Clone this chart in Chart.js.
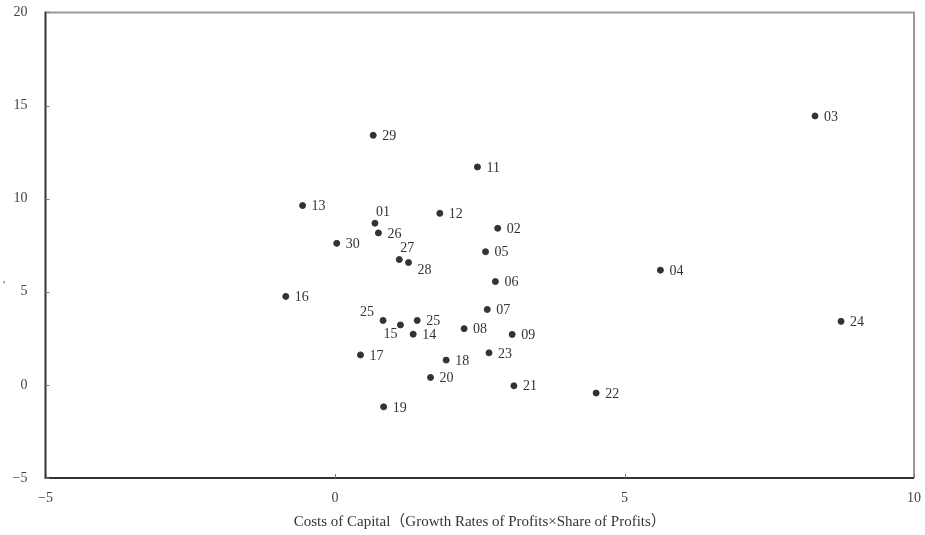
<!DOCTYPE html>
<html>
<head>
<meta charset="utf-8">
<script src="https://cdn.jsdelivr.net/npm/chart.js@4/dist/chart.umd.min.js"></script>
<style>
  html, body { margin: 0; padding: 0; background: #fff; overflow: hidden; }
  #wrap { width: 925px; height: 541px; margin-top: -6px; }
</style>
</head>
<body>
<div id="wrap"><canvas id="scatter"></canvas></div>
<script>
// region codes and values
const codes = ['01','02','03','04','05','06','07','08','09','11','12','13','14','15','16',
               '17','18','19','20','21','22','23','24','25','25','26','27','28','29','30'];
const costX = [0.69, 2.81, 8.29, 5.62, 2.60, 2.77, 2.63, 2.23, 3.06, 2.46, 1.81, -0.56, 1.35, 1.13, -0.85,
               0.44, 1.92, 0.84, 1.65, 3.09, 4.51, 2.66, 8.74, 0.83, 1.42, 0.75, 1.11, 1.27, 0.66, 0.03];
const valueY = [8.68, 8.41, 14.44, 6.16, 7.15, 5.55, 4.05, 3.02, 2.71, 11.70, 9.21, 9.63, 2.72, 3.22, 4.75,
                1.61, 1.33, -1.18, 0.40, -0.05, -0.44, 1.72, 3.41, 3.46, 3.46, 8.16, 6.73, 6.57, 13.40, 7.60];
const xTicks = [-5, 0, 5, 10];
const yTicks = [-5, 0, 5, 10, 15, 20];
const xTitle = 'Costs of Capital（Growth Rates of Profits×Share of Profits）';

// where a label sits relative to its dot (default is to the right)
const labelPlace = { 0: 'above', 26: 'above', 27: 'belowRight', 23: 'upLeft', 13: 'downLeft' };

const serif = '"Liberation Serif", "Times New Roman", "Noto Sans CJK SC", serif';

const points = costX.map((x, i) => ({ x: x, y: valueY[i] }));

const labelPlugin = {
  id: 'labels',
  afterDatasetsDraw(chart) {
    const ctx = chart.ctx;
    const meta = chart.getDatasetMeta(0);
    ctx.save();
    ctx.font = '14px ' + serif;
    ctx.fillStyle = '#333';
    ctx.textBaseline = 'middle';
    meta.data.forEach((pt, i) => {
      const place = labelPlace[i] || 'right';
      let tx = pt.x + 9, ty = pt.y + 1, align = 'left';
      if (place === 'above') { tx = pt.x + 1; ty = pt.y - 11; }
      if (place === 'belowRight') { tx = pt.x + 9; ty = pt.y + 8; }
      if (place === 'upLeft') { tx = pt.x - 9; ty = pt.y - 8; align = 'right'; }
      if (place === 'downLeft') { tx = pt.x - 3; ty = pt.y + 9; align = 'right'; }
      ctx.textAlign = align;
      ctx.fillText(codes[i], tx, ty);
    });
    ctx.restore();
  }
};

const framePlugin = {
  id: 'frame',
  afterDraw(chart) {
    const ctx = chart.ctx;
    const a = chart.chartArea;
    const xs = chart.scales.x, ys = chart.scales.y;
    ctx.save();
    // top and right border in grey
    ctx.strokeStyle = '#999';
    ctx.lineWidth = 2;
    ctx.beginPath();
    ctx.moveTo(a.left, a.top);
    ctx.lineTo(a.right, a.top);
    ctx.lineTo(a.right, a.bottom);
    ctx.stroke();
    // left and bottom axis
    ctx.strokeStyle = '#333';
    ctx.beginPath();
    ctx.moveTo(a.left, a.top - 1);
    ctx.lineTo(a.left, a.bottom);
    ctx.lineTo(a.right, a.bottom);
    ctx.stroke();
    // small inward ticks
    ctx.strokeStyle = '#777';
    ctx.lineWidth = 1;
    ctx.beginPath();
    yTicks.forEach(v => {
      const py = Math.round(ys.getPixelForValue(v)) + 0.5;
      ctx.moveTo(a.left, py); ctx.lineTo(a.left + 4, py);
    });
    xTicks.forEach(v => {
      const px = Math.round(xs.getPixelForValue(v)) + 0.5;
      ctx.moveTo(px, a.bottom); ctx.lineTo(px, a.bottom - 4);
    });
    ctx.stroke();
    // stray mark left of the y axis
    ctx.fillStyle = '#555';
    ctx.font = '12px ' + serif;
    ctx.textAlign = 'center';
    ctx.textBaseline = 'middle';
    ctx.fillText("'", 4, 292);
    ctx.restore();
  }
};

const minus = v => String(v).replace('-', '\u2212');

new Chart(document.getElementById('scatter'), {
  type: 'scatter',
  data: {
    datasets: [{
      data: points,
      backgroundColor: '#333',
      borderColor: '#333',
      pointRadius: 3,
      pointHoverRadius: 3
    }]
  },
  options: {
    responsive: true,
    maintainAspectRatio: false,
    animation: false,
    layout: { padding: { top: 0, right: 0, left: 0, bottom: 0 } },
    plugins: { legend: { display: false }, tooltip: { enabled: false } },
    scales: {
      x: {
        type: 'linear',
        min: -5, max: 10,
        afterFit: s => { s.height = 57; },
        afterBuildTicks: s => { s.ticks = xTicks.map(v => ({ value: v })); },
        grid: { display: false },
        border: { display: false },
        ticks: { color: '#444', padding: 4, font: { family: serif, size: 14 }, callback: minus },
        title: { display: true, text: xTitle, color: '#333', padding: { top: 5 }, font: { family: serif, size: 15 } }
      },
      y: {
        type: 'linear',
        min: -5, max: 20,
        afterFit: s => { s.width = 45.5; },
        afterBuildTicks: s => { s.ticks = yTicks.map(v => ({ value: v })); },
        grid: { display: false },
        border: { display: false },
        ticks: { color: '#444', padding: 10, font: { family: serif, size: 14 }, callback: minus }
      }
    }
  },
  plugins: [labelPlugin, framePlugin]
});
</script>
</body>
</html>
